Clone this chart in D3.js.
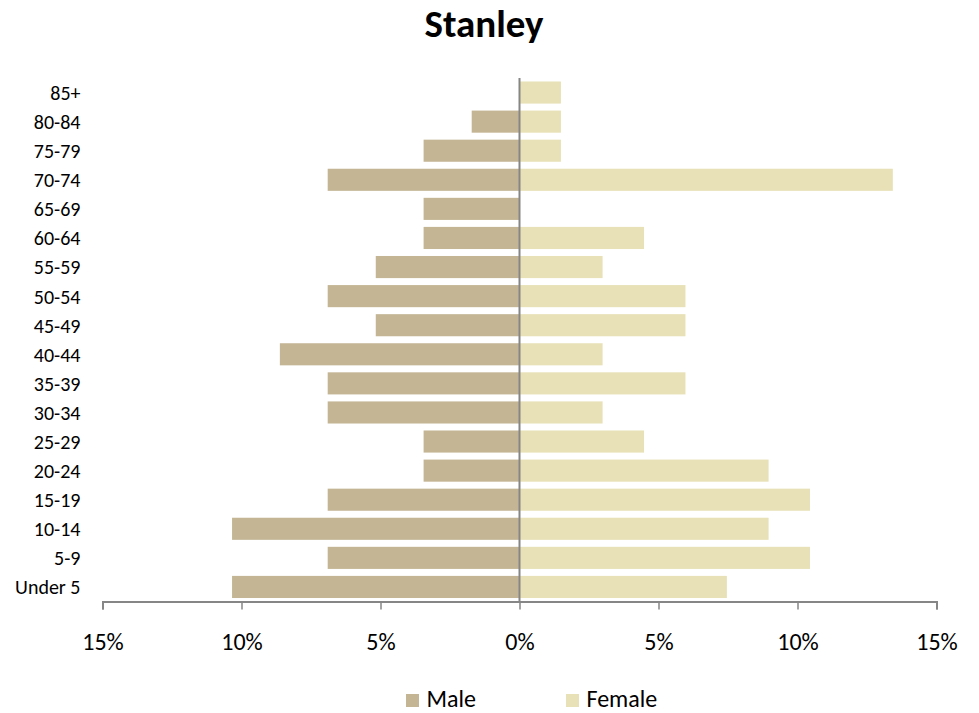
<!DOCTYPE html>
<html>
<head>
<meta charset="utf-8">
<script src="https://cdn.jsdelivr.net/npm/d3@7"></script>
<style>
  html, body { margin: 0; padding: 0; background: #fff; }
  svg { display: block; font-family: Carlito, Calibri, Lato, sans-serif; }
</style>
</head>
<body>
<svg id="chart" width="979" height="713"></svg>
<script>
// ── Data ─────────────────────────────────────────────────────────────────────

const ageGroups = ["85+", "80-84", "75-79", "70-74", "65-69", "60-64", "55-59", "50-54", "45-49",
  "40-44", "35-39", "30-34", "25-29", "20-24", "15-19", "10-14", "5-9", "Under 5"];
const maleValues = [0, 1.72, 3.45, 6.9, 3.45, 3.45, 5.17, 6.9, 5.17,
  8.62, 6.9, 6.9, 3.45, 3.45, 6.9, 10.34, 6.9, 10.34];
const femaleValues = [1.49, 1.49, 1.49, 13.43, 0, 4.48, 2.99, 5.97, 5.97,
  2.99, 5.97, 2.99, 4.48, 8.96, 10.45, 8.96, 10.45, 7.46];
const tickValues = [-15, -10, -5, 0, 5, 10, 15];
const seriesNames = ["Male", "Female"];

// ── Layout ───────────────────────────────────────────────────────────────────

const MALE_COLOR = "#c4b695";
const FEMALE_COLOR = "#e8e1b7";
const AXIS_COLOR = "#868686";
const FONT = "Carlito, Calibri, Lato, sans-serif";

const svg = d3.select("#chart");
const plot = { left: 102.5, right: 936.5, top: 78, bottom: 601.5 };

const x = d3.scaleLinear().domain([-15, 15]).range([plot.left, plot.right]);
const y = d3.scaleBand().domain(ageGroups).range([plot.top, plot.bottom]).paddingInner(0.24).paddingOuter(0.12);

// Title
svg.append("text")
  .attr("x", 484).attr("y", 36.5)
  .attr("text-anchor", "middle")
  .attr("font-size", 39).attr("font-weight", "bold")
  .text("Stanley");

// Bars
const rows = ageGroups.map((g, i) => ({ group: g, male: maleValues[i], female: femaleValues[i] }));

svg.append("g").selectAll("rect")
  .data(rows)
  .join("rect")
  .attr("x", (d) => x(-d.male))
  .attr("y", (d) => y(d.group))
  .attr("width", (d) => x(0) - x(-d.male))
  .attr("height", y.bandwidth())
  .attr("fill", MALE_COLOR);

svg.append("g").selectAll("rect")
  .data(rows)
  .join("rect")
  .attr("x", x(0))
  .attr("y", (d) => y(d.group))
  .attr("width", (d) => x(d.female) - x(0))
  .attr("height", y.bandwidth())
  .attr("fill", FEMALE_COLOR);

// Category labels
svg.append("g").selectAll("text")
  .data(ageGroups)
  .join("text")
  .attr("x", 80.5)
  .attr("y", (d) => y(d) + y.bandwidth() / 2)
  .attr("dy", "0.37em")
  .attr("text-anchor", "end")
  .attr("font-size", 20)
  .attr("fill", "#000")
  .text((d) => d);

// Centre line
svg.append("line")
  .attr("x1", x(0)).attr("x2", x(0))
  .attr("y1", plot.top).attr("y2", plot.bottom)
  .attr("stroke", AXIS_COLOR).attr("stroke-width", 2);

// X axis
const xAxis = d3.axisBottom(x)
  .tickValues(tickValues)
  .tickSize(8)
  .tickPadding(23)
  .tickFormat((d) => `${Math.abs(d)}%`);

const axisG = svg.append("g")
  .attr("transform", `translate(0,${plot.bottom})`)
  .call(xAxis);
axisG.select(".domain").attr("stroke", AXIS_COLOR).attr("stroke-width", 2);
axisG.selectAll(".tick line").attr("stroke", AXIS_COLOR).attr("stroke-width", 1.5);
axisG.selectAll(".tick text")
  .attr("font-size", 24)
  .attr("fill", "#000")
  .attr("font-family", FONT);

// Legend
const legendX = [406, 566];
const legend = svg.append("g").selectAll("g")
  .data(seriesNames)
  .join("g")
  .attr("transform", (d, i) => `translate(${legendX[i]},694)`);

legend.append("rect")
  .attr("width", 13).attr("height", 13)
  .attr("fill", (d, i) => (i === 0 ? MALE_COLOR : FEMALE_COLOR));

legend.append("text")
  .attr("x", 20.5).attr("y", 13)
  .attr("font-size", 24)
  .attr("fill", "#000")
  .text((d) => d);
</script>
</body>
</html>
